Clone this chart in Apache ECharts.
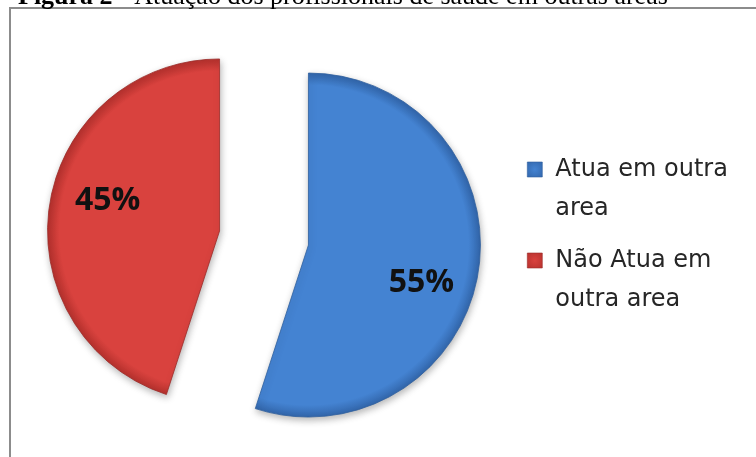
<!DOCTYPE html>
<html>
<head>
<meta charset="utf-8">
<script src="https://cdn.jsdelivr.net/npm/echarts@6/dist/echarts.min.js"></script>
<style>
  html, body { margin: 0; padding: 0; background: #fff; }
  #chart { width: 756px; height: 457px; }
</style>
</head>
<body>
<div id="chart"></div>
<script>
// Categories and their shares (percent)
const categories = ['Atua em outra area', 'Não Atua em outra area'];
const shares = [55, 45];
// Legend wording, wrapped onto two lines each
const legendLabels = ['Atua em outra\narea', 'Não Atua em\noutra area'];
const figureTitle = 'Figura 2 - Atuação dos profissionais de saúde em outras áreas';

const pieCenter = [264, 238];
const pieRadius = 172;

const sliceColors = [
  { inner: '#4483d2', outer: '#3266ab', border: '#2f5f9e' },
  { inner: '#d9423e', outer: '#b5312d', border: '#9c2b28' }
];

// Radial shading in the sector's own coordinates (follows the explode offset)
function sliceFill(c) {
  return {
    type: 'radial', global: true,
    x: pieCenter[0], y: pieCenter[1], r: pieRadius,
    colorStops: [
      { offset: 0, color: c.inner },
      { offset: 0.93, color: c.inner },
      { offset: 1, color: c.outer }
    ]
  };
}

const chart = echarts.init(document.getElementById('chart'), null, { renderer: 'canvas' });

const pieData = categories.map((name, i) => ({
  name: name,
  value: shares[i],
  selected: true,
  itemStyle: {
    color: sliceFill(sliceColors[i]),
    borderColor: sliceColors[i].border,
    borderWidth: 0.8,
    shadowBlur: 7,
    shadowOffsetX: 1,
    shadowOffsetY: 3,
    shadowColor: 'rgba(0,0,0,0.28)'
  }
}));

// Per-slice nudges for the percentage labels
const labelShift = [[25, 24], [-24, -16]];

const boldPart = figureTitle.slice(0, 10);
const restPart = figureTitle.slice(10);

chart.setOption({
  backgroundColor: '#ffffff',
  animation: false,
  graphic: [
    {
      type: 'rect',
      silent: true,
      shape: { x: 10, y: 8, width: 760, height: 470 },
      style: { fill: 'none', stroke: '#8c8c8c', lineWidth: 2 }
    },
    {
      type: 'text',
      silent: true,
      x: 18, y: 10,
      style: {
        text: '{b|' + boldPart + '}' + restPart,
        font: '26px "Liberation Serif"',
        fill: '#000',
        verticalAlign: 'bottom',
        rich: { b: { fontFamily: 'Liberation Serif', fontSize: 26, fontWeight: 'bold', fill: '#000' } }
      }
    }
  ],
  legend: {
    orient: 'vertical',
    left: 527,
    top: 111,
    padding: 0,
    itemWidth: 15,
    itemHeight: 15,
    itemGap: -26,
    icon: 'rect',
    selectedMode: false,
    data: categories.map((name, i) => ({
      name: name,
      itemStyle: {
        color: {
          type: 'radial', x: 0.5, y: 0.5, r: 0.7,
          colorStops: [
            { offset: 0, color: sliceColors[i].inner },
            { offset: 1, color: sliceColors[i].outer }
          ]
        },
        borderColor: sliceColors[i].border,
        borderWidth: 0.6
      }
    })),
    // leading blank line keeps the first text line level with the swatch
    formatter: (name) => '\n' + legendLabels[categories.indexOf(name)],
    textStyle: {
      fontFamily: 'DejaVu Sans',
      fontSize: 24,
      color: '#262626',
      lineHeight: 39,
      padding: [0, 0, 0, 8]
    }
  },
  series: [{
    type: 'pie',
    center: pieCenter,
    radius: [0, pieRadius],
    startAngle: 90,
    clockwise: true,
    selectedMode: 'multiple',
    selectedOffset: 45,
    silent: true,
    emphasis: { disabled: true },
    label: {
      show: true,
      position: 'inside',
      formatter: '{c}%',
      fontFamily: 'Open Sans',
      fontWeight: 'bold',
      fontSize: 32,
      color: '#111'
    },
    labelLine: { show: false },
    labelLayout: (p) => ({ dx: labelShift[p.dataIndex][0], dy: labelShift[p.dataIndex][1] }),
    data: pieData
  }]
});
</script>
</body>
</html>
